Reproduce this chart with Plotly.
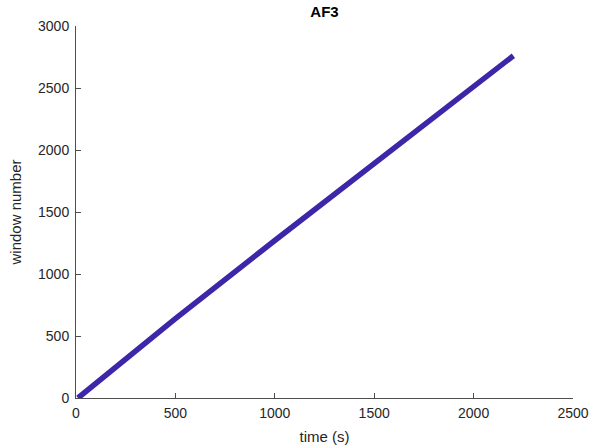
import plotly.graph_objects as go

# values
time_s = [10, 500, 1000, 1500, 2000, 2200]
window_number = [0, 640, 1270, 1890, 2510, 2760]

x_ticks = [0, 500, 1000, 1500, 2000, 2500]
y_ticks = [0, 500, 1000, 1500, 2000, 2500, 3000]

axis_col = "#4d4d4d"
font_fam = "Liberation Sans, Arial, sans-serif"

W, H = 605, 445

fig = go.Figure()
fig.add_trace(go.Scatter(
    x=time_s, y=window_number, mode="lines",
    line=dict(color="rgb(62,38,168)", width=5.5),
    showlegend=False, hoverinfo="skip",
))

common = dict(
    showgrid=False, zeroline=False, showline=True, linecolor=axis_col,
    linewidth=1, ticks="inside", ticklen=5, tickcolor=axis_col,
    tickfont=dict(family=font_fam, size=14, color="#262626"),
    mirror=False, automargin=False,
)

fig.update_layout(
    width=W, height=H,
    margin=dict(l=76, r=32, t=26, b=47, autoexpand=False),
    paper_bgcolor="white", plot_bgcolor="white",
    title=dict(text="<b>AF3</b>", x=(76 + W - 32) / 2 / W, xanchor="center",
               y=1 - 12 / H, yanchor="middle",
               font=dict(family=font_fam, size=15, color="black")),
    xaxis=dict(range=[0, 2500], tickvals=x_ticks, ticklabelstandoff=2,
               title=dict(text="time (s)", standoff=11,
                          font=dict(family=font_fam, size=15, color="#262626")),
               **common),
    yaxis=dict(range=[0, 3000], tickvals=y_ticks, ticklabelstandoff=3,
               title=dict(text="window number", standoff=12,
                          font=dict(family=font_fam, size=15, color="#262626")),
               **common),
)

fig.write_html(
    "out.html",
    config={"displayModeBar": False, "staticPlot": True},
    post_script="document.body.style.margin='0';document.body.style.overflow='hidden';",
)
